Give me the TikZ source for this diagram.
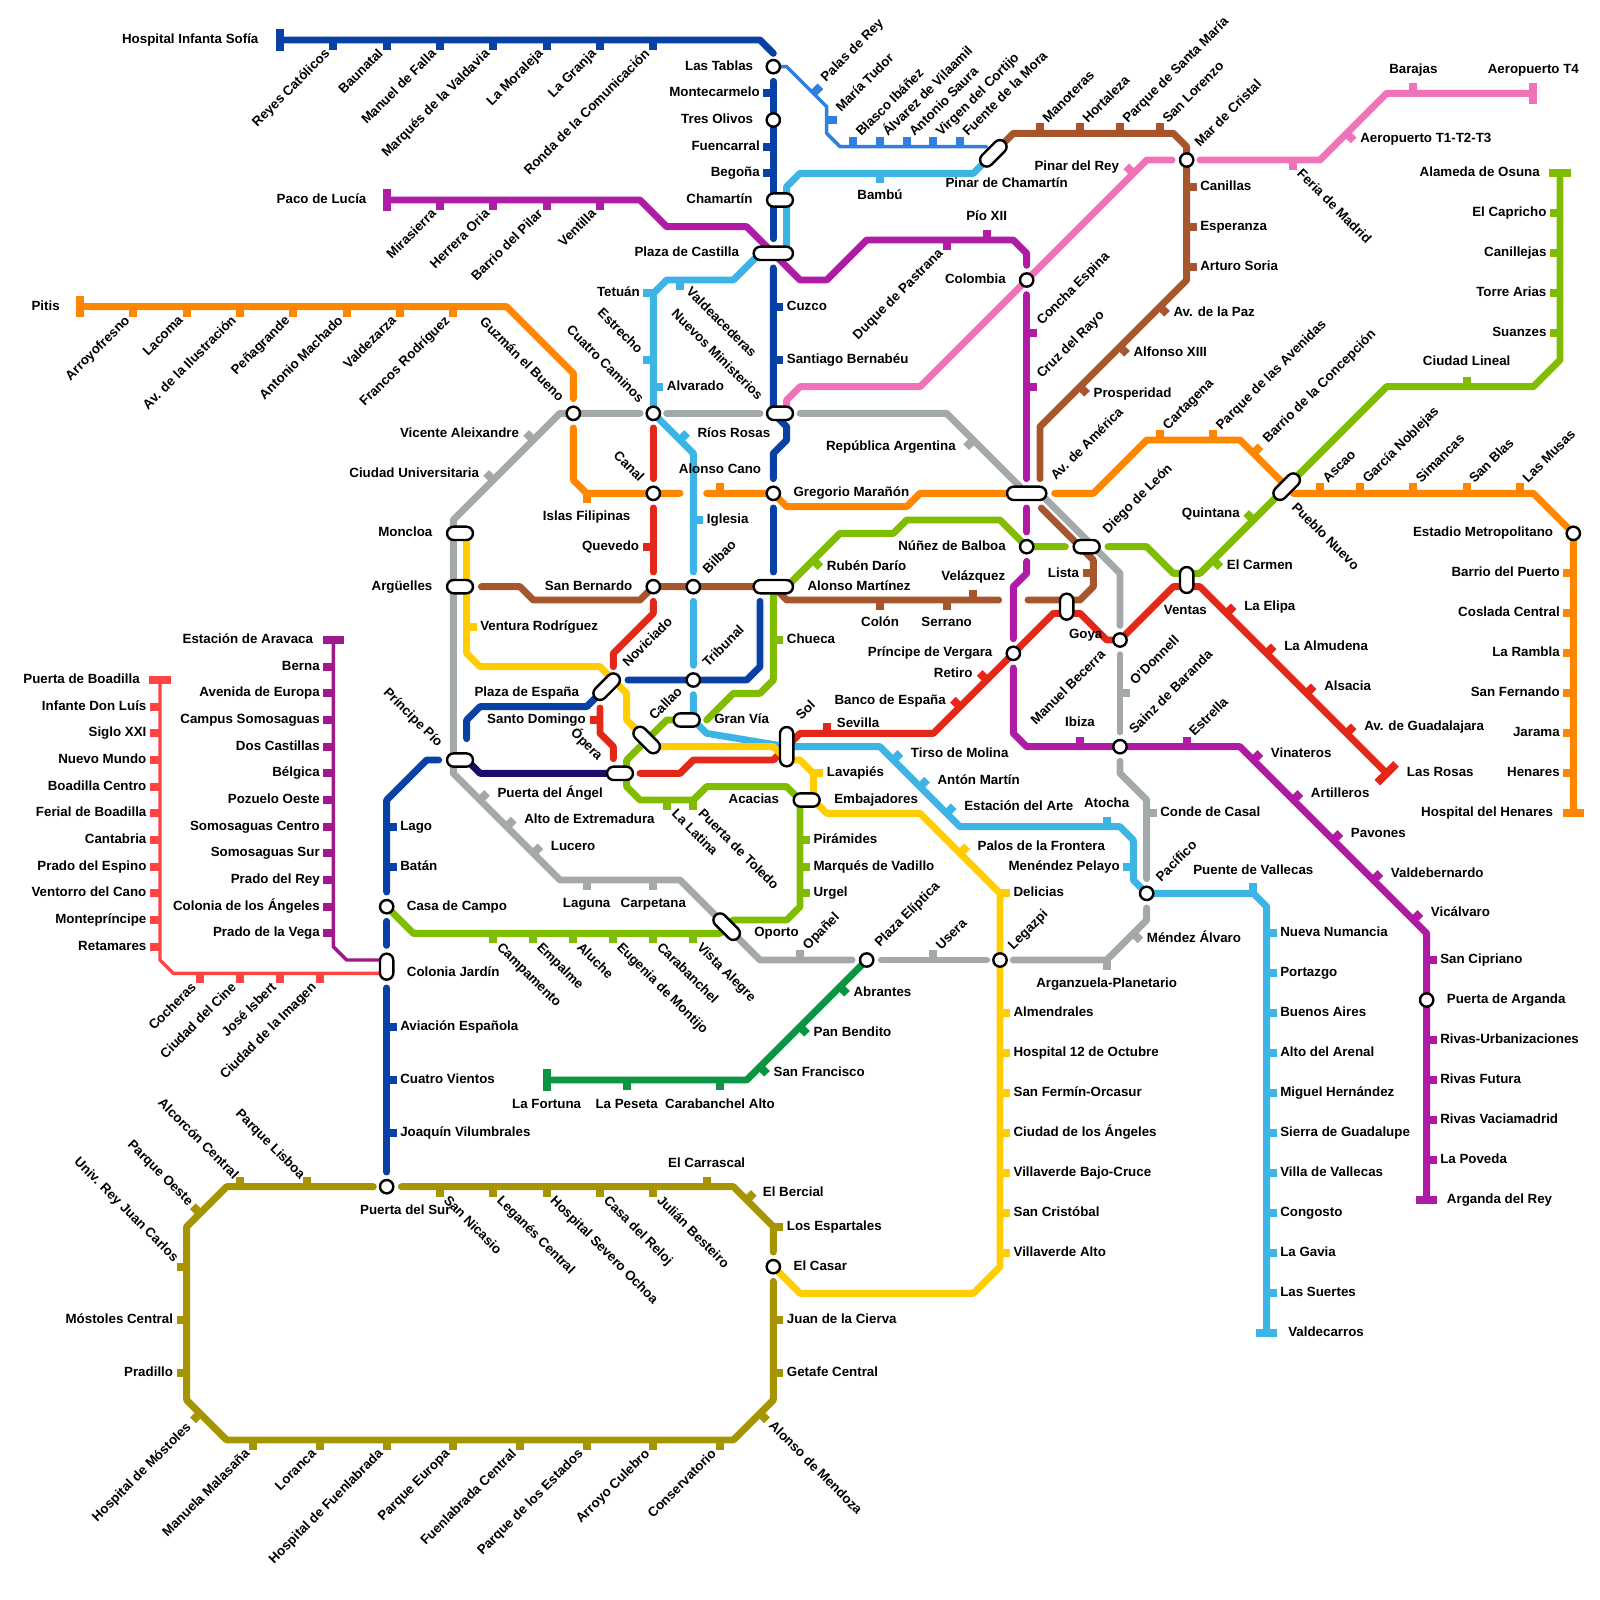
\documentclass[tikz,border=0pt]{standalone}
\usepackage{fontspec}
\setmainfont{Liberation Sans}
\usetikzlibrary{shapes.misc}
\definecolor{Lone}{HTML}{3DB4E6}
\definecolor{Ltwo}{HTML}{E52719}
\definecolor{Lthree}{HTML}{FFCD00}
\definecolor{Lfour}{HTML}{A6552D}
\definecolor{Lfive}{HTML}{80BD00}
\definecolor{Lsix}{HTML}{A3A8A9}
\definecolor{Lseven}{HTML}{FF8700}
\definecolor{Leight}{HTML}{F072B8}
\definecolor{Lnine}{HTML}{AF1BA5}
\definecolor{Lten}{HTML}{0940A6}
\definecolor{Leleven}{HTML}{0A9540}
\definecolor{Ltwelve}{HTML}{A69500}
\definecolor{Lramal}{HTML}{1D0C6B}
\definecolor{Mone}{HTML}{2E7FE0}
\definecolor{Mtwo}{HTML}{A0188E}
\definecolor{Mthree}{HTML}{FF4444}
\tikzset{
  metro/.style={line width=5.2pt,line cap=round,line join=round},
  ligero/.style={line width=2.6pt,line cap=round,line join=round},
  tick/.style={line width=6pt,line cap=butt},
  bar/.style={line width=6pt,line cap=butt},
  stn/.style={circle,draw=black,fill=white,line width=1.8pt,minimum size=10pt,inner sep=0pt},
  pill/.style={rounded rectangle,draw=black,fill=white,line width=1.8pt,minimum height=10pt,inner sep=0pt,minimum width=#1},
  pill/.default=19.5pt,
  lab/.style={inner sep=0pt,text=black,font=\fontsize{10}{12}\selectfont\bfseries},
}
\newcommand\tkU[2]{\draw[tick] (#1,#2)--++(0,-.75);}
\newcommand\tkD[2]{\draw[tick] (#1,#2)--++(0,.75);}
\newcommand\tkL[2]{\draw[tick] (#1,#2)--++(-.75,0);}
\newcommand\tkR[2]{\draw[tick] (#1,#2)--++(.75,0);}
\newcommand\tkNE[2]{\draw[tick] (#1,#2)--++(.53,-.53);}
\newcommand\tkNW[2]{\draw[tick] (#1,#2)--++(-.53,-.53);}
\newcommand\tkSE[2]{\draw[tick] (#1,#2)--++(.53,.53);}
\newcommand\tkSW[2]{\draw[tick] (#1,#2)--++(-.53,.53);}
\newcommand\hbarre[2]{\draw[bar] (#1-.8,#2)--(#1+.8,#2);}
\newcommand\vbarre[2]{\draw[bar] (#1,#2-.8)--(#1,#2+.8);}
\newcounter{lbn}
\newcommand\lbl[4]{\stepcounter{lbn}\node[lab,#1] (lb\arabic{lbn}) at (#2,#3) {#4};}
\newcommand\lR[3]{\lbl{anchor=mid west}{#1}{#2}{#3}}
\newcommand\lL[3]{\lbl{anchor=mid east}{#1}{#2}{#3}}
\newcommand\lC[3]{\lbl{anchor=mid}{#1}{#2}{#3}}
\newcommand\lNE[3]{\lbl{rotate=45,anchor=mid west}{#1}{#2}{#3}}
\newcommand\lSW[3]{\lbl{rotate=45,anchor=mid east}{#1}{#2}{#3}}
\newcommand\lSE[3]{\lbl{rotate=-45,anchor=mid west}{#1}{#2}{#3}}
\newcommand\lNW[3]{\lbl{rotate=-45,anchor=mid east}{#1}{#2}{#3}}
\begin{document}
\begin{tikzpicture}[x=10pt,y=-10pt]
\useasboundingbox (0,0) rectangle (120,120);
\fill[white] (0,0) rectangle (120,120);
% interchange positions
\coordinate (lastablas) at (58,5);
\coordinate (tresolivos) at (58,9);
\coordinate (chamartin) at (58.5,15);
\coordinate (plazacastilla) at (58,19);
\coordinate (pinar) at (74.5,11.5);
\coordinate (colombia) at (77,21);
\coordinate (marcristal) at (89,12);
\coordinate (guzman) at (43,31);
\coordinate (cuatro) at (49,31);
\coordinate (nuevos) at (58.5,31);
\coordinate (canal) at (49,37);
\coordinate (gregorio) at (58,37);
\coordinate (america) at (77,37);
\coordinate (pueblo) at (96.5,36.5);
\coordinate (moncloa) at (34.5,40);
\coordinate (nunez) at (77,41);
\coordinate (diego) at (81.5,41);
\coordinate (arguelles) at (34.5,44);
\coordinate (sanbernardo) at (49,44);
\coordinate (bilbao) at (52,44);
\coordinate (alonso) at (58,44);
\coordinate (ventas) at (89,43.5);
\coordinate (goya) at (80,45.5);
\coordinate (odonnell) at (84,48);
\coordinate (vergara) at (76,49);
\coordinate (tribunal) at (52,51);
\coordinate (plazaesp) at (45.5,51.5);
\coordinate (granvia) at (51.5,54);
\coordinate (callao) at (48.5,55.5);
\coordinate (sol) at (59,56);
\coordinate (sainz) at (84,56);
\coordinate (pio) at (34.5,57);
\coordinate (opera) at (46.5,58);
\coordinate (embajadores) at (60.5,60);
\coordinate (pacifico) at (86,67);
\coordinate (casacampo) at (29,68);
\coordinate (oporto) at (54.5,69.5);
\coordinate (elipticaC) at (65,72);
\coordinate (legazpi) at (75,72);
\coordinate (colonia) at (29,72.5);
\coordinate (arganda) at (107,75);
\coordinate (metropolitano) at (118,40);
\coordinate (pdelsur) at (29,89);
\coordinate (elcasar) at (58,95);
% --- Line 1
\begin{scope}[color=Lone]
\draw[metro] (pinar)--(73,13)--(60,13)--(59,14)--(59,19);
\draw[metro] (57,19)--(55,21)--(50,21)--(49,22)--(cuatro)--(52,34)--(52,42.9);
\draw[metro] (52,45.1)--(52,49.9);
\draw[metro] (52,52.1)--(52,54)--(53,55)--(sol)--(59,56)--(66,56)--(72,62)--(84,62)--(85,63)--(85,66)--(pacifico)--(94,67)--(95,68)--(95,100);
\tkD{66}{13}\tkL{49}{22}\tkD{51}{21}\tkL{49}{27}\tkR{49}{29}\tkNE{51}{33}\tkR{52}{39}
\tkNE{67}{57}\tkNE{69}{59}\tkNE{71}{61}\tkU{83}{62}\tkL{85}{65}\tkU{94}{67}
\foreach \y in {70,73,...,97} {\tkR{95}{\y}}
\hbarre{95}{100}
\end{scope}
% --- Line 2
\begin{scope}[color=Ltwo]
\draw[metro] (49,32.1)--(49,35.9);
\draw[metro] (49,38.1)--(49,42.9);
\draw[metro] (49,45.1)--(49,46)--(46,49)--(46,50);
\draw[metro] (45,53.1)--(45,55)--(46,56)--(46,56.9);
\draw[metro] (48,58)--(51,58)--(52,57)--(58,57)--(sol)--(60,55)--(70,55)--(79,46)--(81,46)--(83,48)--(odonnell)--(88,44)--(90,44)--(104,58);
\tkL{49}{41}\tkL{45}{54}\tkU{62}{55}\tkNW{72}{53}\tkNW{74}{51}
\tkNE{92}{46}\tkNE{95}{49}\tkNE{98}{52}\tkNE{101}{55}
\draw[bar] (103.3,58.7)--(104.7,57.3);
\end{scope}
% --- Line 3
\begin{scope}[color=Lthree]
\draw[metro] (35,40)--(35,49)--(36,50)--(45,50)--(47,52)--(47,54)--(49,56)--(58,56)--(59,57)--(60,57)--(61,58)--(61,60)--(62,61)--(69,61)--(75,67)--(75,95)--(73,97)--(60,97)--(elcasar);
\tkR{35}{47}\tkR{61}{58}\tkNE{72}{64}\tkR{75}{67}
\foreach \y in {76,79,...,94} {\tkR{75}{\y}}
\end{scope}
% --- Line 4
\begin{scope}[color=Lfour]
\draw[metro] (36.1,44)--(39,44)--(40,45)--(48,45)--(sanbernardo)--(bilbao)--(alonso);
\draw[metro] (58.5,44.5)--(59,45)--(74.9,45);
\draw[metro] (77.1,45)--(81,45)--(82,44)--(82,42)--(81,41)--(78.1,38.1);
\draw[metro] (78,35.9)--(78,32)--(89,21)--(89,11)--(88,10)--(76,10)--(pinar);
\tkD{66}{45}\tkD{71}{45}\tkU{73}{45}\tkL{82}{43}\tkSE{81}{29}\tkSE{84}{26}\tkSE{87}{23}
\tkR{89}{20}\tkR{89}{17}\tkR{89}{14}\tkU{87}{10}\tkU{84}{10}\tkU{81}{10}\tkU{78}{10}
\end{scope}
% --- Line 5
\begin{scope}[color=Lfive]
\draw[metro] (117,13)--(117,27)--(115,29)--(104,29)--(90,43)--(88,43)--(86,41)--(83.1,41);
\draw[metro] (79.9,41)--(nunez)--(75,39)--(68,39)--(67,40)--(63,40)--(59,44);
\draw[metro] (58,44)--(58,51)--(57,52)--(55,52)--(53,54);
\draw[metro] (51,54)--(50,54)--(47,57)--(47,59)--(48,60)--(52,60)--(53,59)--(59,59)--(60,60)--(60,68)--(59,69)--(55,69)--(54,70)--(31,70)--(casacampo);
\tkNW{94}{39}\tkSE{91}{42}\tkU{110}{29}
\foreach \y in {16,19,22,25} {\tkL{117}{\y}}
\hbarre{117}{13}
\tkSE{61}{42}\tkR{58}{48}\tkD{50}{60}\tkD{52}{60}\tkR{60}{63}\tkR{60}{65}\tkR{60}{67}
\foreach \x in {37,40,...,52} {\tkD{\x}{70}}
\end{scope}
% --- Line 6
\begin{scope}[color=Lsix]
\draw[metro] (34,58)--(34,39)--(42,31)--(48,31);
\draw[metro] (50,31)--(57,31);
\draw[metro] (60,31)--(71,31)--(76.5,36.5);
\draw[metro] (78,37)--(84,43)--(84,46.9);
\draw[metro] (84,49.1)--(84,54.9);
\draw[metro] (84,57.1)--(84,58)--(86,60)--(86,65.9);
\draw[metro] (86,68.1)--(86,69)--(83,72)--(76,72);
\draw[metro] (74,72)--(66.1,72);
\draw[metro] (63.9,72)--(57,72)--(51,66)--(42,66)--(34,58);
\tkNW{40}{33}\tkNW{37}{36}\tkNE{36}{60}\tkNE{38}{62}\tkNE{40}{64}\tkD{44}{66}\tkD{49}{66}
\tkU{60}{72}\tkU{70}{72}\tkD{83}{72}\tkSE{85}{70}\tkR{86}{61}\tkR{84}{52}\tkSW{73}{33}
\end{scope}
% --- Line 7
\begin{scope}[color=Lseven]
\draw[metro] (6,23)--(38,23)--(43,28)--(43,29.9);
\draw[metro] (43,32.1)--(43,36)--(44,37)--(51,37);
\draw[metro] (53,37)--(gregorio)--(59,38)--(68,38)--(69,37)--(america);
\draw[metro] (79.1,37)--(82,37)--(86,33)--(93,33)--(97,37)--(115,37)--(metropolitano)--(118,61);
\vbarre{6}{23}\hbarre{118}{61}
\foreach \x in {10,14,...,34} {\tkD{\x}{23}}
\tkD{44}{37}\tkU{54}{37}\tkU{87}{33}\tkU{91}{33}\tkNE{94}{34}
\tkU{99}{37}\tkU{102}{37}\tkU{106}{37}\tkU{110}{37}\tkU{114}{37}
\foreach \y in {43,46,...,58} {\tkL{118}{\y}}
\end{scope}
% --- Line 8
\begin{scope}[color=Leight]
\draw[metro] (59,31)--(59,30)--(60,29)--(69,29)--(colombia)--(86,12)--(87.9,12);
\draw[metro] (90,12)--(99,12)--(104,7)--(115,7);
\vbarre{115}{7}\tkU{106}{7}\tkSE{101}{10}\tkD{97}{12}\tkNW{85}{13}
\end{scope}
% --- Line 9
\begin{scope}[color=Lnine]
\draw[metro] (29,15)--(48,15)--(50,17)--(56,17)--(plazacastilla)--(60,21)--(62,21)--(65,18)--(76,18)--(77,19)--(77,19.9);
\draw[metro] (77,22.1)--(77,35.9);
\draw[metro] (77,38.1)--(77,39.9);
\draw[metro] (77,42.1)--(77,43)--(76,44)--(76,47.9);
\draw[metro] (76,50.1)--(76,55)--(77,56)--(sainz)--(93,56)--(107,70)--(107,90);
\vbarre{29}{15}\hbarre{107}{90}
\tkD{33}{15}\tkD{37}{15}\tkD{41}{15}\tkD{45}{15}\tkD{71}{18}\tkU{74}{18}\tkR{77}{25}\tkR{77}{29}
\tkU{81}{56}\tkU{89}{56}\tkNE{94}{57}\tkNE{97}{60}\tkNE{100}{63}\tkNE{103}{66}\tkNE{106}{69}
\tkR{107}{72}\tkR{107}{78}\tkR{107}{81}\tkR{107}{84}\tkR{107}{87}
\end{scope}
% --- Line 10
\begin{scope}[color=Lten]
\draw[metro] (21,3)--(57,3)--(58,4);
\draw[metro] (58,6.1)--(tresolivos)--(58,17.9);
\draw[metro] (58,20.1)--(58,31)--(59,32)--(59,33)--(58,34)--(58,35.9);
\draw[metro] (58,38.1)--(58,42.9);
\draw[metro] (57,45.1)--(57,50)--(56,51)--(tribunal)--(47.1,51);
\draw[metro] (45.5,51.5)--(44,53)--(36,53)--(35,54)--(35,55.4);
\draw[metro] (32.9,57)--(32,57)--(29,60)--(29,66.9);
\draw[metro] (29,69.1)--(29,70.9);
\draw[metro] (29,74.1)--(29,87.9);
\vbarre{21}{3}
\foreach \x in {25,29,...,49} {\tkD{\x}{3}}
\tkL{58}{7}\tkL{58}{11}\tkL{58}{13}\tkR{58}{23}\tkR{58}{27}
\tkR{29}{62}\tkR{29}{65}\tkR{29}{77}\tkR{29}{81}\tkR{29}{85}
\end{scope}
% --- Ramal
\draw[metro,Lramal] (35,57)--(36,58)--(opera);
% --- Line 11
\begin{scope}[color=Leleven]
\draw[metro] (41,81)--(56,81)--(elipticaC);
\vbarre{41}{81}\tkD{47}{81}\tkD{54}{81}\tkSE{57}{80}\tkSE{60}{77}\tkSE{63}{74}
\end{scope}
% --- Line 12
\begin{scope}[color=Ltwelve]
\draw[metro] (28,89)--(17,89)--(14,92)--(14,105)--(17,108)--(55,108)--(58,105)--(58,96.1);
\draw[metro] (58,93.9)--(58,92)--(55,89)--(30.1,89);
\tkU{23}{89}\tkU{18}{89}\tkNW{15}{91}\tkL{14}{95}\tkL{14}{99}\tkL{14}{103}\tkSW{15}{106}
\foreach \x in {19,24,...,54} {\tkD{\x}{108}}
\tkSE{57}{106}\tkR{58}{103}\tkR{58}{99}\tkR{58}{92}\tkNE{56}{90}\tkU{53}{89}
\foreach \x in {33,37,...,49} {\tkD{\x}{89}}
\end{scope}
% --- Ligero 1
\begin{scope}[color=Mone]
\draw[ligero] (lastablas)--(59,5)--(62,8)--(62,10)--(63,11)--(74,11);
\tkNE{61}{7}\tkR{62}{9}
\foreach \x in {64,66,...,72} {\tkU{\x}{11}}
\end{scope}
% --- Ligero 2
\begin{scope}[color=Mtwo]
\draw[ligero] (25,48)--(25,71)--(26,72)--(29,72);
\hbarre{25}{48}
\foreach \y in {50,52,...,70} {\tkL{25}{\y}}
\end{scope}
% --- Ligero 3
\begin{scope}[color=Mthree]
\draw[ligero] (12,51)--(12,72)--(13,73)--(29,73);
\hbarre{12}{51}
\foreach \y in {53,55,...,71} {\tkL{12}{\y}}
\foreach \x in {15,18,21,24} {\tkD{\x}{73}}
\end{scope}
% --- Stations
\foreach \n/\c in {Lastablas/lastablas,Tresolivos/tresolivos,Colombia/colombia,Marcristal/marcristal,Guzman/guzman,Cuatro/cuatro,Canal/canal,Gregorio/gregorio,Nunez/nunez,Sanbernardo/sanbernardo,Bilbao/bilbao,Odonnell/odonnell,Vergara/vergara,Tribunal/tribunal,Sainz/sainz,Pacifico/pacifico,Casacampo/casacampo,Eliptica/elipticaC,Legazpi/legazpi,Arganda/arganda,Metropolitano/metropolitano,Pdelsur/pdelsur,Elcasar/elcasar}
  {\node[stn] (\n) at (\c) {};}
\foreach \n/\c in {Chamartin/chamartin,Nuevos/nuevos,Moncloa/moncloa,Diego/diego,Arguelles/arguelles,Granvia/granvia,Pio/pio,Opera/opera,Embajadores/embajadores}
  {\node[pill] (\n) at (\c) {};}
\node[pill=29.5pt] (Plaza) at (plazacastilla) {};
\node[pill=29.5pt] (Alonso) at (alonso) {};
\node[pill=29.5pt] (America) at (america) {};
\node[pill=29.5pt,rotate=90] (Sol) at (sol) {};
\node[pill,rotate=90] (Goya) at (goya) {};
\node[pill,rotate=90] (Ventas) at (ventas) {};
\node[pill,rotate=90] (Colonia) at (colonia) {};
\node[pill=24pt,rotate=45] (Pinar) at (pinar) {};
\node[pill=24pt,rotate=45] (Plazaesp) at (plazaesp) {};
\node[pill=24pt,rotate=45] (Pueblo) at (pueblo) {};
\node[pill=24pt,rotate=-45] (Callao) at (callao) {};
\node[pill=24pt,rotate=-45] (Oporto) at (oporto) {};
% --- Labels
\lL{19.4}{3}{Hospital Infanta Sofía}
\lSW{24.6}{3.9}{Reyes Católicos}\lSW{28.6}{3.9}{Baunatal}\lSW{32.6}{3.9}{Manuel de Falla}\lSW{36.6}{3.9}{Marqués de la Valdavia}\lSW{40.6}{3.9}{La Moraleja}\lSW{44.6}{3.9}{La Granja}\lSW{48.6}{3.9}{Ronda de la Comunicación}
\lL{27.5}{15}{Paco de Lucía}
\lSW{32.6}{15.9}{Mirasierra}\lSW{36.6}{15.9}{Herrera Oria}\lSW{40.6}{15.9}{Barrio del Pilar}\lSW{44.6}{15.9}{Ventilla}
\lL{4.5}{23}{Pitis}
\lSW{9.6}{23.9}{Arroyofresno}\lSW{13.6}{23.9}{Lacoma}\lSW{17.6}{23.9}{Av. de la Ilustración}\lSW{21.6}{23.9}{Peñagrande}\lSW{25.6}{23.9}{Antonio Machado}\lSW{29.6}{23.9}{Valdezarza}\lSW{33.6}{23.9}{Francos Rodríguez}
\lSW{70.6}{18.9}{Duque de Pastrana}
\lSW{18.6}{108.9}{Manuela Malasaña}\lSW{23.6}{108.9}{Loranca}\lSW{28.6}{108.9}{Hospital de Fuenlabrada}\lSW{33.6}{108.9}{Parque Europa}\lSW{38.6}{108.9}{Fuenlabrada Central}\lSW{43.6}{108.9}{Parque de los Estados}\lSW{48.6}{108.9}{Arroyo Culebro}\lSW{53.6}{108.9}{Conservatorio}
\lSW{14.2}{106.9}{Hospital de Móstoles}
\lSW{14.6}{73.9}{Cocheras}\lSW{17.6}{73.9}{Ciudad del Cine}\lSW{20.6}{73.9}{José Isbert}\lSW{23.6}{73.9}{Ciudad de la Imagen}
\lNE{61.75}{6}{Palas de Rey}\lNE{62.9}{8.25}{María Tudor}\lNE{64.4}{10.1}{Blasco Ibáñez}\lNE{66.4}{10.1}{Álvarez de Vilaamil}\lNE{68.4}{10.1}{Antonio Saura}\lNE{70.4}{10.1}{Virgen del Cortijo}\lNE{72.4}{10.1}{Fuente de la Mora}
\lNE{78.4}{9.1}{Manoteras}\lNE{81.4}{9.1}{Hortaleza}\lNE{84.4}{9.1}{Parque de Santa María}\lNE{87.4}{9.1}{San Lorenzo}\lNE{89.8}{10.9}{Mar de Cristal}
\lNE{77.95}{24.25}{Concha Espina}\lNE{77.95}{28.25}{Cruz del Rayo}\lNE{79}{35.9}{Av. de América}\lNE{82.9}{39.9}{Diego de León}
\lNE{87.4}{32.1}{Cartagena}\lNE{91.4}{32.1}{Parque de las Avenidas}\lNE{94.9}{33.1}{Barrio de la Concepción}
\lNE{99.4}{36.1}{Ascao}\lNE{102.4}{36.1}{García Noblejas}\lNE{106.4}{36.1}{Simancas}\lNE{110.4}{36.1}{San Blas}\lNE{114.4}{36.1}{Las Musas}
\lNE{52.9}{42.9}{Bilbao}\lNE{52.9}{49.9}{Tribunal}\lNE{46.9}{49.9}{Noviciado}\lNE{48.9}{53.9}{Callao}\lNE{59.9}{53.9}{Sol}
\lNE{60.4}{71.1}{Opañel}\lNE{65.8}{70.9}{Plaza Elíptica}\lNE{70.4}{71.1}{Usera}\lNE{75.8}{71.1}{Legazpi}
\lNE{77.5}{54.25}{Manuel Becerra}\lNE{84.95}{51.25}{O'Donnell}\lNE{84.9}{54.9}{Sainz de Baranda}\lNE{89.4}{55.1}{Estrella}\lNE{86.9}{66}{Pacífico}
\lSE{51.6}{21.75}{Valdeacederas}\lNW{57}{29.9}{Nuevos Ministerios}
\lNW{48}{26.4}{Estrecho}\lNW{48.1}{30.1}{Cuatro Caminos}\lNW{42.1}{30}{Guzmán el Bueno}\lNW{48.1}{36}{Canal}\lNW{33}{55.9}{Príncipe Pío}\lNW{45}{56.9}{Ópera}
\lSE{50.5}{60.9}{La Latina}\lSE{52.5}{60.9}{Puerta de Toledo}
\lSE{37.4}{70.9}{Campamento}\lSE{40.4}{70.9}{Empalme}\lSE{43.4}{70.9}{Aluche}\lSE{46.4}{70.9}{Eugenia de Montijo}\lSE{49.4}{70.9}{Carabanchel}\lSE{52.4}{70.9}{Vista Alegre}
\lSE{97}{37.9}{Pueblo Nuevo}\lSE{97.4}{12.9}{Feria de Madrid}
\lSE{33.4}{89.9}{San Nicasio}\lSE{37.4}{89.9}{Leganés Central}\lSE{41.4}{89.9}{Hospital Severo Ochoa}\lSE{45.4}{89.9}{Casa del Reloj}\lSE{49.4}{89.9}{Julián Besteiro}
\lSE{57.8}{106.8}{Alonso de Mendoza}
\lNW{14.3}{90.3}{Parque Oeste}\lNW{17.7}{88.3}{Alcorcón Central}\lNW{22.7}{88.3}{Parque Lisboa}\lNW{13.2}{94.5}{Univ. Rey Juan Carlos}
% right-hand labels
\lR{59}{23}{Cuzco}\lR{59}{27}{Santiago Bernabéu}\lR{50}{29}{Alvarado}\lR{52.3}{32.55}{Ríos Rosas}\lR{53}{39}{Iglesia}\lR{59.5}{37}{Gregorio Marañón}
\lR{36}{47}{Ventura Rodríguez}\lR{62}{42.5}{Rubén Darío}\lR{60.55}{44}{Alonso Martínez}\lR{59}{48}{Chueca}\lR{53.55}{54}{Gran Vía}\lR{62.75}{54.3}{Sevilla}
\lR{62}{58}{Lavapiés}\lR{62.55}{60}{Embajadores}\lR{68.3}{56.55}{Tirso de Molina}\lR{70.3}{58.55}{Antón Martín}\lR{72.3}{60.55}{Estación del Arte}\lR{73.3}{63.55}{Palos de la Frontera}
\lR{61}{63}{Pirámides}\lR{61}{65}{Marqués de Vadillo}\lR{61}{67}{Urgel}
\lR{82}{29.55}{Prosperidad}\lR{85}{26.45}{Alfonso XIII}\lR{88}{23.45}{Av. de la Paz}\lR{90}{20}{Arturo Soria}\lR{90}{17}{Esperanza}\lR{90}{14}{Canillas}
\lR{102}{10.45}{Aeropuerto T1-T2-T3}\lR{87}{61}{Conde de Casal}\lR{86}{70.45}{Méndez Álvaro}
\lR{93.3}{45.55}{La Elipa}\lR{96.3}{48.55}{La Almudena}\lR{99.3}{51.55}{Alsacia}\lR{102.3}{54.55}{Av. de Guadalajara}\lR{105.5}{58}{Las Rosas}\lR{92}{42.45}{El Carmen}
\lR{95.3}{56.55}{Vinateros}\lR{98.3}{59.55}{Artilleros}\lR{101.3}{62.55}{Pavones}\lR{104.3}{65.55}{Valdebernardo}\lR{107.3}{68.45}{Vicálvaro}
\lR{108}{72}{San Cipriano}\lR{108.5}{75}{Puerta de Arganda}\lR{108}{78}{Rivas-Urbanizaciones}\lR{108}{81}{Rivas Futura}\lR{108}{84}{Rivas Vaciamadrid}\lR{108}{87}{La Poveda}\lR{108.5}{90}{Arganda del Rey}
\lR{96}{70}{Nueva Numancia}\lR{96}{73}{Portazgo}\lR{96}{76}{Buenos Aires}\lR{96}{79}{Alto del Arenal}\lR{96}{82}{Miguel Hernández}\lR{96}{85}{Sierra de Guadalupe}\lR{96}{88}{Villa de Vallecas}\lR{96}{91}{Congosto}\lR{96}{94}{La Gavia}\lR{96}{97}{Las Suertes}\lR{96.6}{100}{Valdecarros}
\lR{30}{62}{Lago}\lR{30}{65}{Batán}\lR{30.5}{68}{Casa de Campo}\lR{30.5}{73}{Colonia Jardín}\lR{30}{77}{Aviación Española}\lR{30}{81}{Cuatro Vientos}\lR{30}{85}{Joaquín Vilumbrales}
\lR{64}{74.45}{Abrantes}\lR{61}{77.45}{Pan Bendito}\lR{58}{80.45}{San Francisco}
\lR{76}{67}{Delicias}\lR{76}{76}{Almendrales}\lR{76}{79}{Hospital 12 de Octubre}\lR{76}{82}{San Fermín-Orcasur}\lR{76}{85}{Ciudad de los Ángeles}\lR{76}{88}{Villaverde Bajo-Cruce}\lR{76}{91}{San Cristóbal}\lR{76}{94}{Villaverde Alto}
\lR{59.5}{95}{El Casar}\lR{59}{92}{Los Espartales}\lR{59}{99}{Juan de la Cierva}\lR{59}{103}{Getafe Central}\lR{57.2}{89.5}{El Bercial}
\lR{37.3}{59.55}{Puerta del Ángel}\lR{39.3}{61.5}{Alto de Extremadura}\lR{41.3}{63.55}{Lucero}\lR{56.55}{70}{Oporto}
% left-hand labels
\lL{56.5}{5}{Las Tablas}\lL{57}{7}{Montecarmelo}\lL{56.5}{9}{Tres Olivos}\lL{57}{11}{Fuencarral}\lL{57}{13}{Begoña}\lL{56.45}{15}{Chamartín}\lL{55.45}{19}{Plaza de Castilla}\lL{48}{22}{Tetuán}
\lL{32.45}{40}{Moncloa}\lL{32.45}{44}{Argüelles}\lL{38.95}{32.55}{Vicente Aleixandre}\lL{35.95}{35.55}{Ciudad Universitaria}
\lL{47.45}{44}{San Bernardo}\lL{47.95}{41}{Quevedo}\lL{43.95}{54}{Santo Domingo}\lL{43.45}{52}{Plaza de España}\lL{58.45}{60}{Acacias}
\lL{75.45}{41}{Núñez de Balboa}\lL{74.45}{49}{Príncipe de Vergara}\lL{72.95}{50.55}{Retiro}\lL{70.95}{52.55}{Banco de España}\lL{71.7}{33.55}{República Argentina}
\lL{83.95}{12.55}{Pinar del Rey}\lL{75.45}{21}{Colombia}\lL{80.95}{43.05}{Lista}\lL{93}{38.55}{Quintana}
\lL{82.7}{47.65}{Goya}
\lL{115.5}{13}{Alameda de Osuna}\lL{116}{16}{El Capricho}\lL{116}{19}{Canillejas}\lL{116}{22}{Torre Arias}\lL{116}{25}{Suanzes}
\lL{116.5}{40}{Estadio Metropolitano}\lL{117}{43}{Barrio del Puerto}\lL{117}{46}{Coslada Central}\lL{117}{49}{La Rambla}\lL{117}{52}{San Fernando}\lL{117}{55}{Jarama}\lL{117}{58}{Henares}\lL{116.5}{61}{Hospital del Henares}
\lL{23.5}{48}{Estación de Aravaca}\lL{24}{50}{Berna}\lL{24}{52}{Avenida de Europa}\lL{24}{54}{Campus Somosaguas}\lL{24}{56}{Dos Castillas}\lL{24}{58}{Bélgica}\lL{24}{60}{Pozuelo Oeste}\lL{24}{62}{Somosaguas Centro}\lL{24}{64}{Somosaguas Sur}\lL{24}{66}{Prado del Rey}\lL{24}{68}{Colonia de los Ángeles}\lL{24}{70}{Prado de la Vega}
\lL{10.5}{51}{Puerta de Boadilla}\lL{11}{53}{Infante Don Luís}\lL{11}{55}{Siglo XXI}\lL{11}{57}{Nuevo Mundo}\lL{11}{59}{Boadilla Centro}\lL{11}{61}{Ferial de Boadilla}\lL{11}{63}{Cantabria}\lL{11}{65}{Prado del Espino}\lL{11}{67}{Ventorro del Cano}\lL{11}{69}{Montepríncipe}\lL{11}{71}{Retamares}
\lL{13}{99}{Móstoles Central}\lL{13}{103}{Pradillo}
% centred labels
\lC{88.9}{45.85}{Ventas}\lC{54}{35.25}{Alonso Cano}\lC{44}{38.75}{Islas Filipinas}\lC{66}{46.75}{Colón}\lC{71}{46.75}{Serrano}\lC{73}{43.25}{Velázquez}\lC{81}{54.25}{Ibiza}\lC{83}{60.3}{Atocha}
\lC{74}{16.25}{Pío XII}\lC{66}{14.7}{Bambú}\lC{75.5}{13.8}{Pinar de Chamartín}\lC{106}{5.25}{Barajas}\lC{115}{5.25}{Aeropuerto T4}\lC{110}{27.15}{Ciudad Lineal}\lC{94}{65.3}{Puente de Vallecas}\lC{83}{73.8}{Arganzuela-Planetario}
\lC{44}{67.8}{Laguna}\lC{49}{67.8}{Carpetana}\lC{41}{82.85}{La Fortuna}\lC{47}{82.85}{La Peseta}\lC{54}{82.85}{Carabanchel Alto}\lC{53}{87.3}{El Carrascal}\lC{30.4}{90.85}{Puerta del Sur}
\lL{84}{65}{Menéndez Pelayo}
\end{tikzpicture}
\end{document}
